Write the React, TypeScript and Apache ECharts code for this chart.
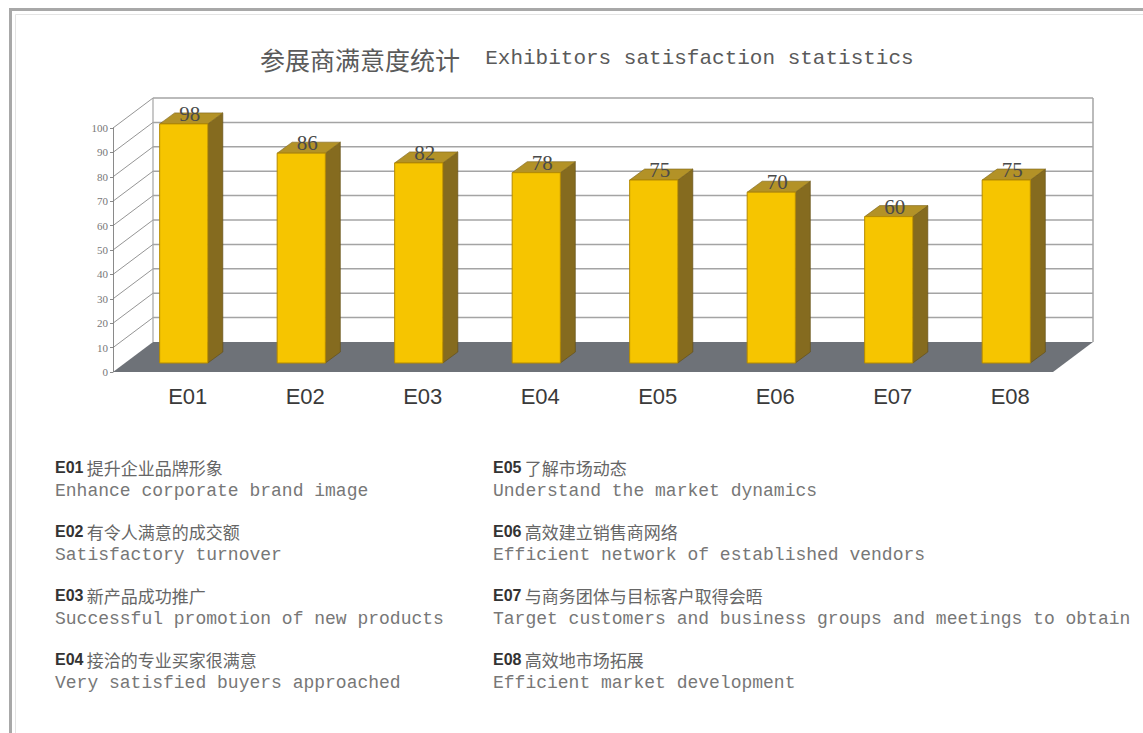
import { useEffect, useRef } from "react";
import * as echarts from "echarts";

const categories = ["E01", "E02", "E03", "E04", "E05", "E06", "E07", "E08"];
const scores = [98, 86, 82, 78, 75, 70, 60, 75];
const yTicks = [0, 10, 20, 30, 40, 50, 60, 70, 80, 90, 100];
const titleCn = "参展商满意度统计";
const titleEn = "Exhibitors satisfaction statistics";
const legendCn = [
  "提升企业品牌形象",
  "有令人满意的成交额",
  "新产品成功推广",
  "接洽的专业买家很满意",
  "了解市场动态",
  "高效建立销售商网络",
  "与商务团体与目标客户取得会晤",
  "高效地市场拓展",
];
const legendEn = [
  "Enhance corporate brand image",
  "Satisfactory turnover",
  "Successful promotion of new products",
  "Very satisfied buyers approached",
  "Understand the market dynamics",
  "Efficient network of established vendors",
  "Target customers and business groups and meetings to obtain",
  "Efficient market development",
];

// pseudo-3D offsets (pixels) relative to the bar plane
const FRONT = [-12, 9];
const BACK = [28, -21];
const BAR_DEPTH = [15, -11];

export default function App() {
  const ref = useRef<HTMLDivElement>(null);

  useEffect(() => {
    if (!ref.current) return;
    const chart = echarts.init(ref.current, undefined, { renderer: "svg" });

    const legendGraphics: any[] = [];
    categories.forEach((code, i) => {
      const col = i < 4 ? 0 : 1;
      const row = i % 4;
      const x = col === 0 ? 55 : 493;
      const y = 470 + row * 64;
      legendGraphics.push({
        type: "text",
        left: x,
        top: y - 11,
        style: {
          text: `{code|${code}} {cn|${legendCn[i]}}`,
          rich: {
            code: {
              fontFamily: "Liberation Sans",
              fontWeight: "bold",
              fontSize: 16,
              fill: "#333",
            },
            cn: {
              fontFamily: "Noto Sans CJK SC",
              fontSize: 17,
              fill: "#666",
            },
          },
        },
      });
      legendGraphics.push({
        type: "text",
        left: x,
        top: y + 12,
        style: {
          text: legendEn[i],
          fontFamily: "Liberation Mono",
          fontSize: 18,
          fill: "#777",
        },
      });
    });

    const option: any = {
      animation: false,
      backgroundColor: "#fff",
      title: {
        left: 255,
        top: 41,
        text: `{cn|${titleCn}}{en|  ${titleEn}}`,
        textStyle: {
          fontWeight: "normal",
          rich: {
            cn: { fontFamily: "Noto Sans CJK SC", fontSize: 25, color: "#5a5a5a", fontWeight: "normal" },
            en: { fontFamily: "Liberation Mono", fontSize: 21, color: "#5a5a5a", fontWeight: "normal" },
          },
        },
      },
      grid: [
        { left: 125, right: 78, top: 119, bottom: 370 },
        { left: 113, right: 90, top: 128, bottom: 361 },
      ],
      xAxis: [
        {
          type: "category",
          gridIndex: 0,
          data: categories,
          axisLine: { show: false },
          axisTick: { show: false },
          axisLabel: {
            margin: 22,
            fontSize: 22,
            fontFamily: "Liberation Sans",
            color: "#3a3a3a",
            padding: [0, 0, 0, 8],
          },
        },
        { type: "category", gridIndex: 1, data: categories, show: false },
      ],
      yAxis: [
        { type: "value", gridIndex: 0, min: 0, max: 100, show: false },
        {
          type: "value",
          gridIndex: 1,
          min: 0,
          max: 100,
          interval: 10,
          axisLine: { show: true, lineStyle: { color: "#8a8a8a", width: 1 } },
          axisTick: { show: true, length: 3, lineStyle: { color: "#8a8a8a" } },
          splitLine: { show: false },
          axisLabel: {
            margin: 5,
            fontSize: 11,
            fontFamily: "Liberation Serif",
            color: "#777",
          },
        },
      ],
      graphic: [
        {
          type: "rect",
          left: 8,
          top: 7,
          shape: { width: 1145, height: 735 },
          style: { fill: "none", stroke: "#a8a8a8", lineWidth: 3 },
          silent: true,
        },
        {
          type: "rect",
          left: 13,
          top: 12,
          shape: { width: 1140, height: 730 },
          style: { fill: "none", stroke: "#e4e4e4", lineWidth: 1 },
          silent: true,
        },
        ...legendGraphics,
      ],
      series: [
        {
          type: "custom",
          xAxisIndex: 0,
          yAxisIndex: 0,
          silent: true,
          z: 1,
          data: [[0, 0]],
          renderItem: (params: any, api: any) => {
            const cs = params.coordSys;
            const x0 = cs.x;
            const x1 = cs.x + cs.width;
            const y0 = api.coord([0, 0])[1];
            const yTop = api.coord([0, 100])[1];
            const children: any[] = [];
            children.push({
              type: "polygon",
              shape: {
                points: [
                  [x0 + FRONT[0], y0 + FRONT[1]],
                  [x0 + BACK[0], y0 + BACK[1]],
                  [x1 + BACK[0], y0 + BACK[1]],
                  [x1 + FRONT[0], y0 + FRONT[1]],
                ],
              },
              style: { fill: "#6e7278" },
            });
            yTicks.forEach((v) => {
              if (v === 0) return;
              const y = api.coord([0, v])[1];
              children.push({
                type: "line",
                shape: { x1: x0 + BACK[0], y1: y + BACK[1], x2: x1 + BACK[0], y2: y + BACK[1] },
                style: { stroke: "#a4a4a4", lineWidth: 1.5 },
              });
              children.push({
                type: "line",
                shape: { x1: x0 + FRONT[0], y1: y + FRONT[1], x2: x0 + BACK[0], y2: y + BACK[1] },
                style: { stroke: "#7a7a7a", lineWidth: 0.8 },
              });
            });
            children.push({
              type: "line",
              shape: { x1: x0 + BACK[0], y1: yTop + BACK[1], x2: x0 + BACK[0], y2: y0 + BACK[1] },
              style: { stroke: "#a4a4a4", lineWidth: 1.2 },
            });
            children.push({
              type: "line",
              shape: { x1: x1 + BACK[0], y1: yTop + BACK[1], x2: x1 + BACK[0], y2: y0 + BACK[1] },
              style: { stroke: "#a4a4a4", lineWidth: 1.5 },
            });
            return { type: "group", children };
          },
        },
        {
          type: "custom",
          xAxisIndex: 0,
          yAxisIndex: 0,
          z: 2,
          data: scores.map((v, i) => [i, v]),
          encode: { x: 0, y: 1 },
          renderItem: (params: any, api: any) => {
            const idx = api.value(0);
            const v = api.value(1);
            const top = api.coord([idx, v]);
            const base = api.coord([idx, 0]);
            const bw = api.size([1, 0])[0] * 0.41;
            const xl = top[0] - bw / 2;
            const xr = top[0] + bw / 2;
            const [dx, dy] = BAR_DEPTH;
            return {
              type: "group",
              children: [
                {
                  type: "polygon",
                  shape: {
                    points: [
                      [xr, top[1]],
                      [xr + dx, top[1] + dy],
                      [xr + dx, base[1] + dy],
                      [xr, base[1]],
                    ],
                  },
                  style: { fill: "#856b1f", stroke: "#5f4c14", lineWidth: 0.6 },
                },
                {
                  type: "polygon",
                  shape: {
                    points: [
                      [xl, top[1]],
                      [xl + dx, top[1] + dy],
                      [xr + dx, top[1] + dy],
                      [xr, top[1]],
                    ],
                  },
                  style: { fill: "#b39227", stroke: "#7a6218", lineWidth: 0.6 },
                },
                {
                  type: "rect",
                  shape: { x: xl, y: top[1], width: bw, height: base[1] - top[1] },
                  style: { fill: "#f6c500", stroke: "#b58a00", lineWidth: 1 },
                },
                {
                  type: "text",
                  style: {
                    text: String(v),
                    x: top[0] + 6,
                    y: top[1] - 10,
                    align: "center",
                    verticalAlign: "middle",
                    fontFamily: "Liberation Serif",
                    fontSize: 21,
                    fill: "#4a4a4a",
                  },
                },
              ],
            };
          },
        },
      ],
    };

    chart.setOption(option);
    return () => chart.dispose();
  }, []);

  return (
    <div
      ref={ref}
      style={{ position: "fixed", left: 0, top: 0, width: 1143, height: 733 }}
    />
  );
}
